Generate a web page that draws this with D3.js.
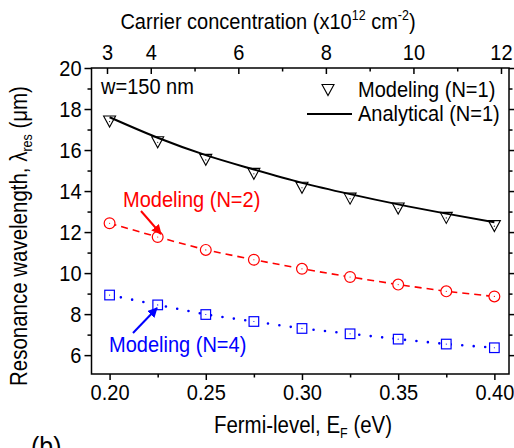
<!DOCTYPE html>
<html>
<head>
<meta charset="utf-8">
<script src="https://cdn.jsdelivr.net/npm/d3@7"></script>
<style>
  body { margin: 0; background: #fff; }
  svg text { font-family: "Liberation Sans", Arial, sans-serif; }
</style>
</head>
<body>
<svg id="chart" width="514" height="448"></svg>
<script>
// data
var fermi = [0.200, 0.225, 0.250, 0.275, 0.300, 0.325, 0.350, 0.375, 0.400];
var modelN1 = [17.39, 16.38, 15.52, 14.84, 14.16, 13.63, 13.15, 12.69, 12.29];
var analyticN1 = [17.60, 16.60, 15.75, 15.05, 14.40, 13.85, 13.35, 12.90, 12.48];
var modelN2 = [12.43, 11.76, 11.13, 10.65, 10.21, 9.81, 9.44, 9.11, 8.86];
var modelN4 = [8.93, 8.45, 7.98, 7.64, 7.30, 7.04, 6.78, 6.54, 6.36];

var xMajor = [0.20, 0.25, 0.30, 0.35, 0.40];
var xMinor = [0.225, 0.275, 0.325, 0.375];
var yMajor = [6, 8, 10, 12, 14, 16, 18, 20];
var yMinor = [7, 9, 11, 13, 15, 17, 19];
var topMajor = [3, 4, 6, 8, 10, 12];
var topMinor = [5, 7, 9, 11];

var svg = d3.select("#chart");

// plot box edges
var L = 91.5, R = 509, T = 68, B = 374;

var x = d3.scaleLinear().domain([0.1906, 0.4076]).range([L, R]);
var y = d3.scaleLinear().domain([5.08, 20]).range([B, T]);
var xTop = d3.scaleLinear().domain([2.646, 12.183]).range([L, R]);

// the original lettering is a bit taller than it is wide
var fontSize = 22.5, sx = 0.89;

function squeeze(sel) {
  sel.each(function() {
    var t = d3.select(this);
    var x0 = +t.attr("x") || 0;
    var tr = t.attr("transform") || "";
    t.attr("x", x0 / sx).attr("transform", tr + " scale(" + sx + ",1)");
  });
}

function styleAxis(g) {
  g.select(".domain").remove();
  g.selectAll(".tick line").attr("stroke", "#000").attr("stroke-width", 1.5);
  g.selectAll("text").attr("font-size", fontSize).attr("fill", "#000")
    .attr("font-family", "Liberation Sans, Arial, sans-serif").call(squeeze);
}

// bottom axis
svg.append("g").attr("transform", "translate(0," + B + ")")
  .call(d3.axisBottom(x).tickValues(xMajor).tickFormat(d3.format(".2f")).tickSizeInner(6).tickSizeOuter(0).tickPadding(4))
  .call(styleAxis);
svg.append("g").attr("transform", "translate(0," + B + ")")
  .call(d3.axisBottom(x).tickValues(xMinor).tickFormat("").tickSizeInner(3.5).tickSizeOuter(0))
  .call(styleAxis);

// top axis (ticks inward)
svg.append("g").attr("transform", "translate(0," + T + ")")
  .call(d3.axisTop(xTop).tickValues(topMajor).tickFormat(d3.format("d")).tickSizeInner(-6).tickSizeOuter(0).tickPadding(8))
  .call(styleAxis);
svg.append("g").attr("transform", "translate(0," + T + ")")
  .call(d3.axisTop(xTop).tickValues(topMinor).tickFormat("").tickSizeInner(-3.5).tickSizeOuter(0))
  .call(styleAxis);

// left axis
svg.append("g").attr("transform", "translate(" + L + ",0)")
  .call(d3.axisLeft(y).tickValues(yMajor).tickFormat(d3.format("d")).tickSizeInner(7).tickSizeOuter(0).tickPadding(3))
  .call(styleAxis);
svg.append("g").attr("transform", "translate(" + L + ",0)")
  .call(d3.axisLeft(y).tickValues(yMinor).tickFormat("").tickSizeInner(4).tickSizeOuter(0))
  .call(styleAxis);

// right axis
svg.append("g").attr("transform", "translate(" + R + ",0)")
  .call(d3.axisRight(y).tickValues(yMajor).tickFormat("").tickSizeInner(6).tickSizeOuter(0))
  .call(styleAxis);
svg.append("g").attr("transform", "translate(" + R + ",0)")
  .call(d3.axisRight(y).tickValues(yMinor).tickFormat("").tickSizeInner(3.5).tickSizeOuter(0))
  .call(styleAxis);

// frame
svg.append("rect").attr("x", L).attr("y", T).attr("width", R - L).attr("height", B - T)
  .attr("fill", "none").attr("stroke", "#000").attr("stroke-width", 1.5);

var line = d3.line().x(function(d) { return x(d[0]); }).y(function(d) { return y(d[1]); });
function pairs(vals) { return fermi.map(function(f, i) { return [f, vals[i]]; }); }

// N=2 dashed red
svg.append("path").datum(pairs(modelN2)).attr("d", line)
  .attr("fill", "none").attr("stroke", "#ff0000").attr("stroke-width", 1.6)
  .attr("stroke-dasharray", "7,5");

// N=4 dotted blue
svg.append("path").datum(pairs(modelN4)).attr("d", line)
  .attr("fill", "none").attr("stroke", "#0000ff").attr("stroke-width", 2.6)
  .attr("stroke-linecap", "round").attr("stroke-dasharray", "0,11.5");

// markers
var tri = "M-6,-5.5L6,-5.5L0,5.5Z";
svg.selectAll(".m1").data(pairs(modelN1)).enter().append("path")
  .attr("d", tri).attr("transform", function(d) { return "translate(" + x(d[0]) + "," + y(d[1]) + ")"; })
  .attr("fill", "#fff").attr("stroke", "#000").attr("stroke-width", 1.1);

svg.selectAll(".m2").data(pairs(modelN2)).enter().append("circle")
  .attr("cx", function(d) { return x(d[0]); }).attr("cy", function(d) { return y(d[1]); })
  .attr("r", 5.4).attr("fill", "#fff").attr("stroke", "#ff0000").attr("stroke-width", 1.2);

svg.selectAll(".m4").data(pairs(modelN4)).enter().append("rect")
  .attr("x", function(d) { return x(d[0]) - 4.8; }).attr("y", function(d) { return y(d[1]) - 4.8; })
  .attr("width", 9.6).attr("height", 9.6)
  .attr("fill", "#fff").attr("stroke", "#0000ff").attr("stroke-width", 1.2);

// tiny centre dots
[[modelN1, "#000"], [modelN2, "#ff0000"], [modelN4, "#0000ff"]].forEach(function(s) {
  svg.selectAll(null).data(pairs(s[0])).enter().append("circle")
    .attr("cx", function(d) { return x(d[0]); }).attr("cy", function(d) { return y(d[1]); })
    .attr("r", 0.6).attr("fill", s[1]);
});

// analytical line on top of triangles
svg.append("path").datum(pairs(analyticN1)).attr("d", line.curve(d3.curveMonotoneX))
  .attr("fill", "none").attr("stroke", "#000").attr("stroke-width", 2);

// legend
svg.append("path").attr("d", tri).attr("transform", "translate(328,90)")
  .attr("fill", "#fff").attr("stroke", "#000").attr("stroke-width", 1.1);
svg.append("text").attr("x", 358).attr("y", 97).attr("font-size", fontSize).text("Modeling (N=1)").call(squeeze);
svg.append("line").attr("x1", 307).attr("x2", 352).attr("y1", 114).attr("y2", 114)
  .attr("stroke", "#000").attr("stroke-width", 2);
svg.append("text").attr("x", 358).attr("y", 121).attr("font-size", fontSize).text("Analytical (N=1)").call(squeeze);

svg.append("text").attr("x", 101).attr("y", 94).attr("font-size", fontSize).text("w=150 nm").call(squeeze);

// annotations
svg.append("defs").selectAll("marker").data([["ahR", "#ff0000"], ["ahB", "#0000ff"]]).enter()
  .append("marker").attr("id", function(d) { return d[0]; })
  .attr("viewBox", "0 0 10 10").attr("refX", 9).attr("refY", 5)
  .attr("markerWidth", 5).attr("markerHeight", 5).attr("orient", "auto")
  .append("path").attr("d", "M0,0L10,5L0,10Z").attr("fill", function(d) { return d[1]; });

svg.append("text").attr("x", 123).attr("y", 207).attr("font-size", fontSize).attr("fill", "#ff0000").text("Modeling (N=2)").call(squeeze);
svg.append("line").attr("x1", 141).attr("y1", 211).attr("x2", 161).attr("y2", 234)
  .attr("stroke", "#ff0000").attr("stroke-width", 2).attr("marker-end", "url(#ahR)");

svg.append("text").attr("x", 109).attr("y", 352).attr("font-size", fontSize).attr("fill", "#0000ff").text("Modeling (N=4)").call(squeeze);
svg.append("line").attr("x1", 133).attr("y1", 333).attr("x2", 157).attr("y2", 308)
  .attr("stroke", "#0000ff").attr("stroke-width", 2).attr("marker-end", "url(#ahB)");

// axis titles
var topTitle = svg.append("text").attr("x", 268).attr("y", 29).attr("text-anchor", "middle").attr("font-size", fontSize);
topTitle.append("tspan").text("Carrier concentration (x10");
topTitle.append("tspan").attr("font-size", 14).attr("dy", -9).text("12");
topTitle.append("tspan").attr("dy", 9).text(" cm");
topTitle.append("tspan").attr("font-size", 14).attr("dy", -9).text("-2");
topTitle.append("tspan").attr("dy", 9).text(")");
topTitle.call(squeeze);

var xTitle = svg.append("text").attr("x", 303).attr("y", 433).attr("text-anchor", "middle").attr("font-size", fontSize + 0.5);
xTitle.append("tspan").text("Fermi-level, E");
xTitle.append("tspan").attr("font-size", 14).attr("dy", 5).text("F");
xTitle.append("tspan").attr("dy", -5).text(" (eV)");
xTitle.call(squeeze);

var yTitle = svg.append("text").attr("transform", "translate(27,236) rotate(-90)")
  .attr("text-anchor", "middle").attr("font-size", fontSize + 0.5);
yTitle.append("tspan").text("Resonance wavelength, \u03bb");
yTitle.append("tspan").attr("font-size", 14).attr("dy", 5).text("res");
yTitle.append("tspan").attr("dy", -5).text(" (\u03bcm)");
yTitle.call(squeeze);

svg.append("text").attr("x", 31).attr("y", 456).attr("font-size", 28).text("(b)").call(squeeze);
</script>
</body>
</html>
